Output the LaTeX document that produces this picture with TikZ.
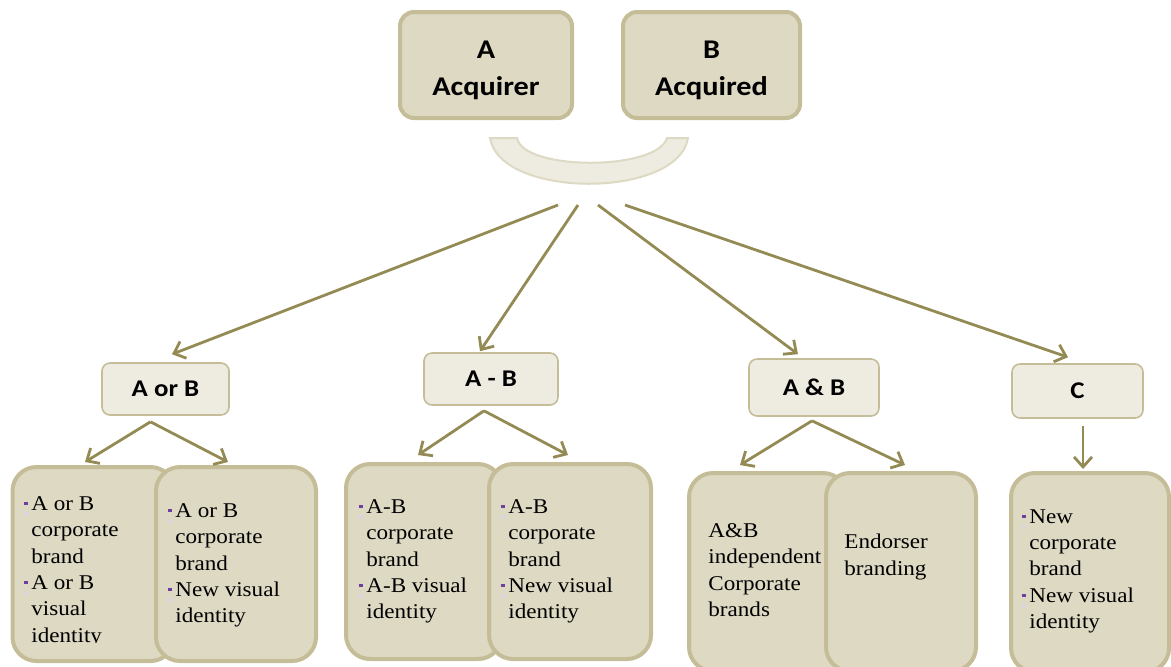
\documentclass[tikz,border=0pt]{standalone}
\usepackage{fontspec}
\setmainfont{Liberation Serif}[FakeStretch=1.1]
\newfontfamily\headfont{Carlito}[FakeStretch=1.12]
\usetikzlibrary{arrows.meta,calc}

\definecolor{tanfill}{HTML}{DDD9C3}
\definecolor{tanline}{HTML}{C4BD97}
\definecolor{palefill}{HTML}{EEECE1}
\definecolor{olive}{HTML}{948A54}
\definecolor{bulpurple}{HTML}{6F3FA0}
\definecolor{bulgrey}{HTML}{D9D5DE}

% small square bullet hanging left of the text
\newcommand\sqb{\llap{\textcolor{bulpurple}{\rule[.24em]{.19em}{.17em}}\hspace{.18em}}%
\llap{\textcolor{bulgrey}{\rule[-.26em]{.19em}{.17em}}\hspace{.18em}}}

\tikzset{
  topbox/.style={draw=tanline, line width=2pt, fill=tanfill, rounded corners=7pt,
    minimum width=86pt, minimum height=53pt, align=center,
    font=\headfont\bfseries\fontsize{13.5}{18.5}\selectfont},
  midbox/.style={draw=tanline, line width=.8pt, fill=palefill, rounded corners=4pt,
    font=\headfont\bfseries\fontsize{12}{14}\selectfont},
  bigbox/.style={draw=tanline, line width=2pt, fill=tanfill, rounded corners=12pt},
  body/.style={anchor=north west, inner sep=0pt, align=left,
    font=\fontsize{10.5}{13.2}\selectfont},
  link/.style={draw=olive, line width=1.4pt, -{Straight Barb[length=5pt,width=9pt]}}
}

\begin{document}
\begin{tikzpicture}[x=.5pt,y=-.5pt]
\useasboundingbox (0,0) rectangle (1171,666);
% Merging companies
\node[topbox] (acq) at (486,65) {\rule{0pt}{14pt}A\\Acquirer};
\node[topbox, minimum width=88.5pt] (acd) at (711.5,65) {\rule{0pt}{14pt}B\\Acquired};
\draw[draw=tanfill, line width=1pt, fill=palefill] (490,138) .. controls (500,199) and (678,199) .. (688,138)
  -- (667,138) .. controls (657,171) and (523,171) .. (517,138) -- cycle;
\coordinate (s1) at (558,205);
\coordinate (s2) at (578,205);
\coordinate (s3) at (598,205);
\coordinate (s4) at (625,205);
% Branding options
\node[midbox, minimum width=63.5pt, minimum height=26pt] (orb) at (165.5,389) {A or B};
\node[midbox, minimum width=67pt, minimum height=26pt] (ab) at (491,379) {A - B};
\node[midbox, minimum width=65pt, minimum height=28.5pt] (anb) at (814,387.5) {A \& B};
\node[midbox, minimum width=65.5pt, minimum height=27pt] (cc) at (1077.5,391) {C};
\draw[link] (s1) -- ($(orb.north)+(6.5,-8)$);
\draw[link] (s2) -- ($(ab.north)+(-11,-1)$);
\draw[link] (s3) -- ($(anb.north)+(-16,-4)$);
\draw[link] (s4) -- ($(cc.north)+(-9.5,-6)$);
% A or B
\node[bigbox, minimum width=81pt, minimum height=97pt] (b1) at (93.5,564) {};
\begin{scope}
\clip (0,0) rectangle (1171,642);
\node[body] (t1) at (31,496) {\sqb A or B\\corporate\\brand\\\sqb A or B\\visual\\identity};
\end{scope}
\node[bigbox, minimum width=80pt, minimum height=97pt] (b2) at (236,564) {};
\node[body] (t2) at (175,503) {\sqb A or B\\corporate\\brand\\\sqb New visual\\identity};
% A - B
\node[bigbox, minimum width=78pt, minimum height=97.5pt] (b3) at (424,561.5) {};
\node[body] (t3) at (366,499) {\sqb A-B\\corporate\\brand\\\sqb A-B visual\\identity};
\node[bigbox, minimum width=81pt, minimum height=97.5pt] (b4) at (570,561.5) {};
\node[body] (t4) at (508,499) {\sqb A-B\\corporate\\brand\\\sqb New visual\\identity};
% A & B
\node[bigbox, minimum width=79pt, minimum height=99pt] (b5) at (768,572) {};
\node[body] (t5) at (708,523) {A\&B\\independent\\Corporate\\brands};
\node[bigbox, minimum width=75pt, minimum height=99pt] (b6) at (901,572) {};
\node[body] (t6) at (844,534) {Endorser\\branding};
% C
\node[bigbox, minimum width=79pt, minimum height=99.5pt] (b7) at (1090,572.5) {};
\node[body] (t7) at (1029,509) {\sqb New\\corporate\\brand\\\sqb New visual\\identity};
% Second level arrows
\draw[link] ($(orb.south)+(-15,6)$) -- ($(b1.north)+(-8.5,-3)$);
\draw[link] ($(orb.south)+(-15,6)$) -- ($(b2.north)+(-8,-3)$);
\draw[link] ($(ab.south)+(-7,5)$) -- ($(b3.north)+(-6,-7)$);
\draw[link] ($(ab.south)+(-7,5)$) -- ($(b4.north)+(-2,-7)$);
\draw[link] ($(anb.south)+(-2,4)$) -- ($(b5.north)+(-28,-6)$);
\draw[link] ($(anb.south)+(-2,4)$) -- ($(b6.north)+(4,-6)$);
\draw[link] ($(cc.south)+(5.5,7)$) -- ($(b7.north)+(-7,-2)$);
\end{tikzpicture}
\end{document}
